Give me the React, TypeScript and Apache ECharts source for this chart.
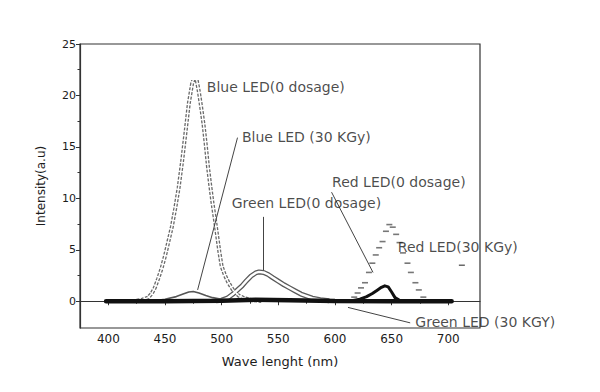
import React, { useEffect, useRef } from "react";
import * as echarts from "echarts";

// Tick values
const xTickValues = [400, 450, 500, 550, 600, 650, 700];
const xMinorTicks = [425, 475, 525, 575, 625, 675];
const yTickValues = [0, 5, 10, 15, 20, 25];
const yMinorTicks = [2.5, 7.5, 12.5, 17.5, 22.5];

// Series (wavelength nm, intensity a.u.)
const blueLed0: [number, number][] = [
  [425, 0.05], [430, 0.15], [435, 0.35], [438, 0.7], [441, 1.3], [444, 2.2], [447, 3.2],
  [450, 4.4], [453, 5.8], [456, 7.2], [459, 9.0], [462, 11.0], [465, 13.5], [468, 16.3],
  [471, 19.2], [474, 21.2], [476, 21.8], [478, 21.5], [480, 20.3], [482, 18.8], [484, 17.2],
  [486, 15.2], [488, 13.0], [490, 11.2], [492, 9.5], [494, 8.0], [496, 6.4], [498, 4.8],
  [500, 3.4], [503, 2.5], [506, 1.8], [510, 1.1], [515, 0.55], [520, 0.3], [527, 0.1], [535, 0.03],
];
const blueLed30: [number, number][] = [
  [440, 0.05], [450, 0.2], [460, 0.45], [466, 0.7], [471, 0.9], [475, 0.95], [480, 0.8],
  [486, 0.55], [492, 0.35], [500, 0.2], [510, 0.08], [520, 0.02],
];
const greenLed0: [number, number][] = [
  [495, 0.05], [500, 0.1], [505, 0.3], [510, 0.7], [515, 1.2], [518, 1.5], [522, 2.0], [526, 2.45],
  [530, 2.75], [533, 2.85], [537, 2.8], [541, 2.6], [545, 2.3], [550, 1.95], [555, 1.6],
  [560, 1.3], [565, 1.0], [570, 0.7], [575, 0.5], [580, 0.3], [587, 0.15], [595, 0.05],
];
const greenLed30: [number, number][] = [
  [398, 0], [450, 0], [500, 0.05], [530, 0.15], [560, 0.1], [600, 0.02], [650, 0], [703, 0],
];
const redLed0: [number, number][] = [
  [612, 0.1], [617, 0.4], [620, 0.8], [623, 1.3], [626.5, 1.8], [630, 2.8], [633, 3.7],
  [636, 4.5], [639, 5.2], [642, 5.8], [645, 6.8], [648, 7.45], [651, 7.2], [654, 6.5],
  [657, 5.7], [660, 4.7], [664, 3.7], [667, 2.8], [671, 1.8], [674, 1.1], [678, 0.4], [682, 0.1],
];
const redLed30: [number, number][] = [
  [615, 0.05], [622, 0.2], [628, 0.45], [633, 0.75], [637, 1.05], [641, 1.35], [644, 1.5],
  [647, 1.4], [650, 0.9], [653, 0.35], [657, 0.1], [662, 0.03],
];

// Annotations
const labelTexts = [
  "Blue LED(0 dosage)",
  "Blue LED (30 KGy)",
  "Green LED(0 dosage)",
  "Red LED(0 dosage)",
  "Red LED(30 KGy)",
  "Green LED (30 KGY)",
];
const labelAnchors: [number, number][] = [
  [486.5, 20.8], [517.5, 16.0], [508.5, 9.5], [597, 11.6], [655, 5.25], [670.5, -2.0],
];
const leaderLines: [number, number][][] = [
  [[514, 15.9], [478.8, 1.1]],
  [[536.3, 8.2], [536.3, 3.0]],
  [[597, 10.6], [633.6, 2.8]],
  [[611.5, -0.6], [666.4, -2.1]],
];
const strayMarks: [number, number][] = [[712, 3.5]];

const FONT = "DejaVu Sans";
const INK = "#1c1c1c";

export default function App() {
  const ref = useRef<HTMLDivElement>(null);
  useEffect(() => {
    if (!ref.current) return;
    const chart = echarts.init(ref.current, undefined, { renderer: "svg" });
    const axisLine = { show: true, lineStyle: { color: "#333", width: 1.2 } };
    chart.setOption({
      animation: false,
      backgroundColor: "#ffffff",
      textStyle: { fontFamily: FONT },
      grid: {
        left: 80, top: 44, width: 400, height: 284,
        show: true, borderColor: "#333", borderWidth: 1.2, backgroundColor: "transparent",
      },
      xAxis: [
        {
          type: "value", min: 375, max: 728, position: "bottom",
          axisLine,
          splitLine: { show: false },
          axisTick: { show: true, customValues: xTickValues, length: 4, lineStyle: { color: "#333" } },
          axisLabel: { customValues: xTickValues, fontSize: 12, color: INK, margin: 5, fontFamily: FONT },
          name: "Wave lenght (nm)", nameLocation: "middle", nameGap: 27,
          nameTextStyle: { fontSize: 13, color: INK, fontFamily: FONT },
        },
        {
          type: "value", min: 375, max: 728, position: "bottom",
          axisLine: { show: false },
          splitLine: { show: false },
          axisTick: { show: true, customValues: xMinorTicks, length: 2.5, lineStyle: { color: "#333" } },
          axisLabel: { show: false },
        },
      ],
      yAxis: [
        {
          type: "value", min: -2.6, max: 25, position: "left",
          axisLine,
          splitLine: { show: false },
          axisTick: { show: true, customValues: yTickValues, length: 4, lineStyle: { color: "#333" } },
          axisLabel: { customValues: yTickValues, fontSize: 11, color: INK, margin: 4, fontFamily: FONT },
          name: "Intensity(a.u)", nameLocation: "middle", nameGap: 33,
          nameTextStyle: { fontSize: 12, color: INK, fontFamily: FONT },
        },
        {
          type: "value", min: -2.6, max: 25, position: "left",
          axisLine: { show: false },
          splitLine: { show: false },
          axisTick: { show: true, customValues: yMinorTicks, length: 2.5, lineStyle: { color: "#333" } },
          axisLabel: { show: false },
        },
      ],
      series: [
        {
          name: "Blue LED (0 dosage) outline", type: "line", data: blueLed0, symbol: "none",
          lineStyle: { color: "#6a6a6a", width: 4, type: [3, 1.5] }, z: 2,
          markPoint: {
            silent: true, symbol: "emptyTriangle", symbolSize: 8, symbolOffset: [0, -2],
            itemStyle: { color: "#ffffff", borderColor: "#444", borderWidth: 1 },
            label: { show: false },
            data: [{ type: "max" }],
          },
        },
        {
          name: "Blue LED (0 dosage) inner", type: "line", data: blueLed0, symbol: "none",
          lineStyle: { color: "#ffffff", width: 1.4 }, z: 3,
        },
        {
          name: "Green LED (0 dosage) outline", type: "line", data: greenLed0, symbol: "none",
          lineStyle: { color: "#5a5a5a", width: 5 }, z: 2,
        },
        {
          name: "Green LED (0 dosage) inner", type: "line", data: greenLed0, symbol: "none",
          lineStyle: { color: "#ffffff", width: 2.4 }, z: 3,
        },
        {
          name: "Blue LED (30 KGy)", type: "line", data: blueLed30, symbol: "none",
          lineStyle: { color: "#555", width: 1.6 }, z: 4,
        },
        {
          name: "Red LED (0 dosage)", type: "scatter", data: redLed0, symbol: "rect",
          symbolSize: [6, 1.6], itemStyle: { color: "#555" }, z: 4,
        },
        {
          name: "Red LED (30 KGy)", type: "line", data: redLed30, symbol: "none",
          lineStyle: { color: "#111", width: 3, join: "round" }, z: 5,
        },
        {
          name: "Green LED (30 KGy)", type: "line", data: greenLed30, symbol: "none",
          lineStyle: { color: "#111", width: 4.5, cap: "round" }, z: 6,
        },
        {
          name: "marks", type: "scatter", data: strayMarks, symbol: "rect",
          symbolSize: [6, 1.5], itemStyle: { color: "#444" }, z: 6,
        },
        {
          name: "annotations", type: "scatter", z: 7,
          data: labelAnchors.map((p, i) => ({ value: p, name: labelTexts[i] })),
          symbolSize: 1, itemStyle: { color: "rgba(0,0,0,0)" },
          label: {
            show: true, position: "right", distance: 0, formatter: "{b}",
            fontFamily: FONT, fontSize: 14, color: INK,
          },
          markLine: {
            silent: true, symbol: ["none", "none"], animation: false,
            label: { show: false },
            lineStyle: { color: "#444", width: 1, type: "solid" },
            data: leaderLines.map((seg) => [{ coord: seg[0] }, { coord: seg[1] }]),
          },
        },
      ],
    });
    return () => chart.dispose();
  }, []);
  return (
    <div
      ref={ref}
      style={{ position: "fixed", left: 0, top: 0, width: 600, height: 392, background: "#fff" }}
    />
  );
}
